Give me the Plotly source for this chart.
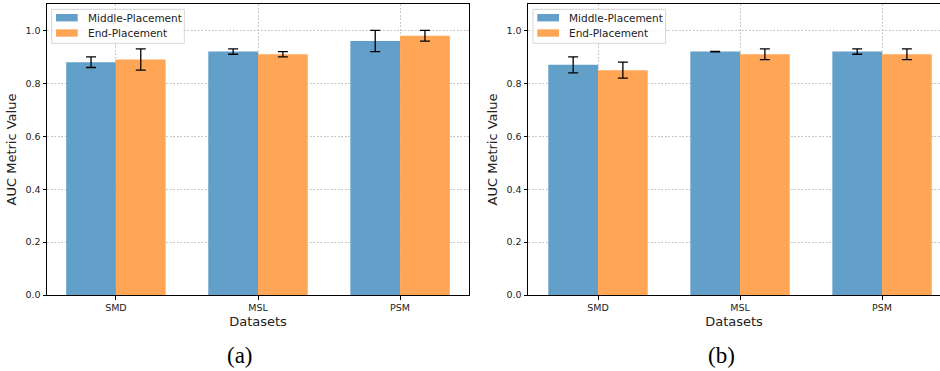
import plotly.graph_objects as go

datasets = ["SMD", "MSL", "PSM"]
series_names = ["Middle-Placement", "End-Placement"]

# panel (a)
a_middle = [0.88, 0.92, 0.96]
a_middle_err = [0.02, 0.01, 0.04]
a_end = [0.89, 0.91, 0.98]
a_end_err = [0.04, 0.01, 0.02]

# panel (b)
b_middle = [0.87, 0.92, 0.92]
b_middle_err = [0.03, 0.001, 0.01]
b_end = [0.85, 0.91, 0.91]
b_end_err = [0.03, 0.02, 0.02]

y_ticks = [0.0, 0.2, 0.4, 0.6, 0.8, 1.0]
panel_labels = ["(a)", "(b)"]

BLUE = "#62A0CA"
ORANGE = "#FFA556"
COLORS = [BLUE, ORANGE]
FONT = "DejaVu Sans"
W, H = 940, 371

fig = go.Figure()

panels = [
    ("x", "y", a_middle, a_middle_err, a_end, a_end_err),
    ("x2", "y2", b_middle, b_middle_err, b_end, b_end_err),
]
for xa, ya, mid, mide, end, ende in panels:
    for name, vals, errs, col in [(series_names[0], mid, mide, COLORS[0]), (series_names[1], end, ende, COLORS[1])]:
        fig.add_trace(go.Bar(
            x=datasets, y=vals, name=name, xaxis=xa, yaxis=ya, showlegend=False,
            marker=dict(color=col, line=dict(width=0)),
            error_y=dict(type="data", array=errs, visible=True, color="black",
                         thickness=1.3, width=5),
        ))

ydom = [1 - 295 / H, 1 - 4 / H]
grid = dict(showgrid=True, gridcolor="#c8c8c8", gridwidth=0.8, griddash="2px,1.5px")
common_x = dict(type="category", showline=True, linecolor="black", linewidth=1,
                ticks="outside", ticklen=3.5, tickcolor="black",
                tickfont=dict(family=FONT, size=9.5, color="#222"),
                title=dict(text="Datasets", font=dict(family=FONT, size=13, color="#222"), standoff=4),
                automargin=False, zeroline=False, **grid)
common_y = dict(range=[0, 1.1], tickvals=y_ticks, tickformat=".1f",
                showline=True, linecolor="black", linewidth=1,
                ticks="outside", ticklen=3.5, tickcolor="black",
                tickfont=dict(family=FONT, size=9.5, color="#222"),
                title=dict(text="AUC Metric Value", font=dict(family=FONT, size=13, color="#222"), standoff=5),
                automargin=False, zeroline=False, **grid)

fig.update_layout(
    width=W, height=H, margin=dict(l=0, r=0, t=0, b=0),
    paper_bgcolor="white", plot_bgcolor="white",
    barmode="group", bargap=0.3, bargroupgap=0,
    xaxis=dict(domain=[47 / W, 469 / W], range=[-0.485, 2.485], mirror=True, anchor="y", **common_x),
    yaxis=dict(domain=ydom, mirror=True, anchor="x", **common_y),
    xaxis2=dict(domain=[528 / W, 1.0], range=[-0.493, 2.408], mirror=True, anchor="y2", **common_x),
    yaxis2=dict(domain=ydom, mirror=False, anchor="x2", **common_y),
    showlegend=False,
)

# legend boxes (drawn as paper shapes, matplotlib style)
def px(x):
    return x / W

def py(y):
    return 1 - y / H

for x0 in [51.7, 533.0]:
    fig.add_shape(type="rect", xref="paper", yref="paper",
                  x0=px(x0), x1=px(x0 + 132.6), y0=py(43.3), y1=py(9.3),
                  line=dict(color="#d6d6d6", width=1), fillcolor="rgba(255,255,255,0.8)", layer="above")
    for i, (name, col) in enumerate(zip(series_names, COLORS)):
        yc = 17.7 + i * 15.3
        fig.add_shape(type="rect", xref="paper", yref="paper",
                      x0=px(x0 + 4.3), x1=px(x0 + 26), y0=py(yc + 3.7), y1=py(yc - 3.7),
                      line=dict(width=0), fillcolor=col, layer="above")
        fig.add_annotation(text=name, x=px(x0 + 34.3), y=py(yc), xref="paper", yref="paper",
                           showarrow=False, xanchor="left", yanchor="middle",
                           font=dict(family=FONT, size=10.5, color="#222"))

for lbl, cx in zip(panel_labels, [240, 721]):
    fig.add_annotation(text=lbl, x=cx / W, y=1 - 355 / H, xref="paper", yref="paper",
                       showarrow=False, xanchor="center", yanchor="middle",
                       font=dict(family="Liberation Serif", size=23, color="black"))

fig.write_html("out.html")
